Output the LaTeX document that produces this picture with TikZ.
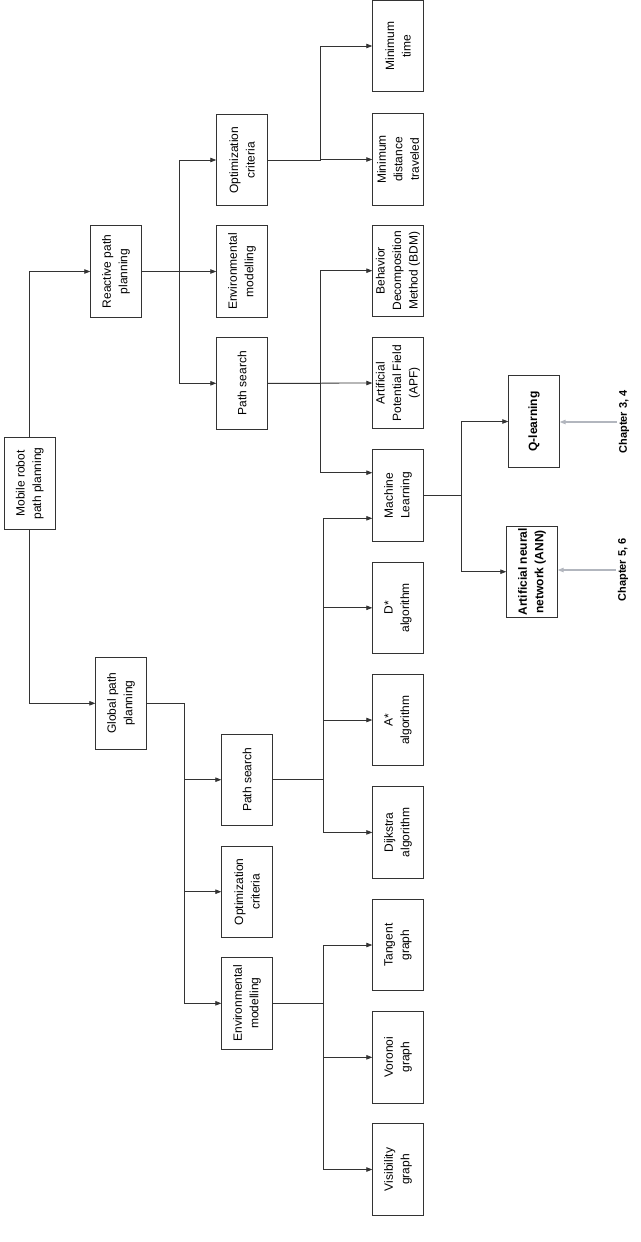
\documentclass[tikz,border=0pt]{standalone}
\usepackage{fontspec}
\setmainfont{Liberation Sans}
\usepackage{xcolor}
\usepackage{tikz}
\usetikzlibrary{positioning, calc, arrows.meta}
\definecolor{chaptergray}{RGB}{178,182,190}

\begin{document}
\begin{tikzpicture}[x=1pt, y=-1pt]
				\tikzstyle{planbox}=[draw=black!80, line width=0.8pt, rotate=90, minimum width=91.5pt, minimum height=50.6pt, inner sep=2pt, align=center, text=black, font=\fontsize{12}{16.5}\selectfont]
				\tikzstyle{planlink}=[draw=black!80, line width=0.8pt, -{Triangle[length=6pt, width=4.5pt]}]
				\tikzstyle{chapterlink}=[draw=chaptergray, line width=1.2pt, -{Triangle[length=6pt, width=4.5pt]}]
				\tikzstyle{chapterlabel}=[rotate=90, inner sep=2pt, text=black, font=\fontsize{11}{13}\selectfont\bfseries]

				\useasboundingbox (0,0) rectangle (640,1242);

				\node (root) at (29.7,483.5) [planbox] {Mobile robot\\path planning};
				\node (reactive) at (116,271.5) [planbox] {Reactive path\\planning};
				\node (global) at (121,703.3) [planbox] {Global path\\planning};

				% reactive branch
				\node (ropt) at (242,160) [planbox] {Optimization\\criteria};
				\node (renv) at (242,271.5) [planbox] {Environmental\\modelling};
				\node (rpath) at (242,383.3) [planbox] {Path search};

				% global branch
				\node (gpath) at (247,779.7) [planbox] {Path search};
				\node (gopt) at (247,891.7) [planbox] {Optimization\\criteria};
				\node (genv) at (247,1003.3) [planbox] {Environmental\\modelling};

				% leaves
				\node (mintime) at (398,46) [planbox] {Minimum\\time};
				\node (mindist) at (398,159.5) [planbox] {Minimum\\distance\\traveled};
				\node (bdm) at (398,270.7) [planbox] {Behavior\\Decomposition\\Method (BDM)};
				\node (apf) at (398,383) [planbox] {Artificial\\Potential Field\\(APF)};
				\node (ml) at (398,495.5) [planbox] {Machine\\Learning};
				\node (dstar) at (398,607.8) [planbox] {D*\\algorithm};
				\node (astar) at (398,720) [planbox] {A*\\algorithm};
				\node (dijkstra) at (398,832.4) [planbox] {Dijkstra\\algorithm};
				\node (tangent) at (398,945) [planbox] {Tangent\\graph};
				\node (voronoi) at (398,1057.3) [planbox] {Voronoi\\graph};
				\node (visibility) at (398,1169.5) [planbox] {Visibility\\graph};

				\node (qlearn) at (534,421.5) [planbox, font=\fontsize{12}{16.5}\selectfont\bfseries] {Q-learning};
				\node (ann) at (532,571.7) [planbox, font=\fontsize{12}{16.5}\selectfont\bfseries] {Artificial neural\\network (ANN)};

				\node (chapqlearn) at (624,422) [chapterlabel] {Chapter 3, 4};
				\node (chapann) at (623,570) [chapterlabel] {Chapter 5, 6};

				\draw [planlink] (root.east) |- (reactive.north);
				\draw [planlink] (root.west) |- (global.north);

				\draw [planlink] (reactive.south) -- ++(37.7,0) |- (ropt.north);
				\draw [planlink] (reactive.south) -- (renv.north);
				\draw [planlink] (reactive.south) -- ++(37.7,0) |- (rpath.north);

				\draw [planlink] (ropt.south) -- ++(52.7,0) |- (mintime.north);
				\draw [planlink] (ropt.south) -- ++(52.7,0) |- (mindist.north);

				\draw [planlink] (rpath.south) -- ++(52.7,0) |- (bdm.north);
				\draw [planlink] (rpath.south) -- (apf.north);
				\draw [planlink] (rpath.south) -- ++(52.7,0) |- ([yshift=22.8pt]ml.north);

				\draw [planlink] (global.south) -- ++(37.7,0) |- (gpath.north);
				\draw [planlink] (global.south) -- ++(37.7,0) |- (gopt.north);
				\draw [planlink] (global.south) -- ++(37.7,0) |- (genv.north);

				\draw [planlink] (gpath.south) -- ++(51,0) |- ([yshift=-22.8pt]ml.north);
				\draw [planlink] (gpath.south) -- ++(51,0) |- (dstar.north);
				\draw [planlink] (gpath.south) -- ++(51,0) |- (astar.north);
				\draw [planlink] (gpath.south) -- ++(51,0) |- (dijkstra.north);

				\draw [planlink] (genv.south) -- ++(51,0) |- (tangent.north);
				\draw [planlink] (genv.south) -- ++(51,0) |- (voronoi.north);
				\draw [planlink] (genv.south) -- ++(51,0) |- (visibility.north);

				\draw [planlink] (ml.south) -- ++(37.7,0) |- (qlearn.north);
				\draw [planlink] (ml.south) -- ++(37.7,0) |- (ann.north);

				\draw [chapterlink] (chapqlearn.north) -- (chapqlearn.north -| qlearn.south);
				\draw [chapterlink] (chapann.north) -- (chapann.north -| ann.south);

\end{tikzpicture}
\end{document}
